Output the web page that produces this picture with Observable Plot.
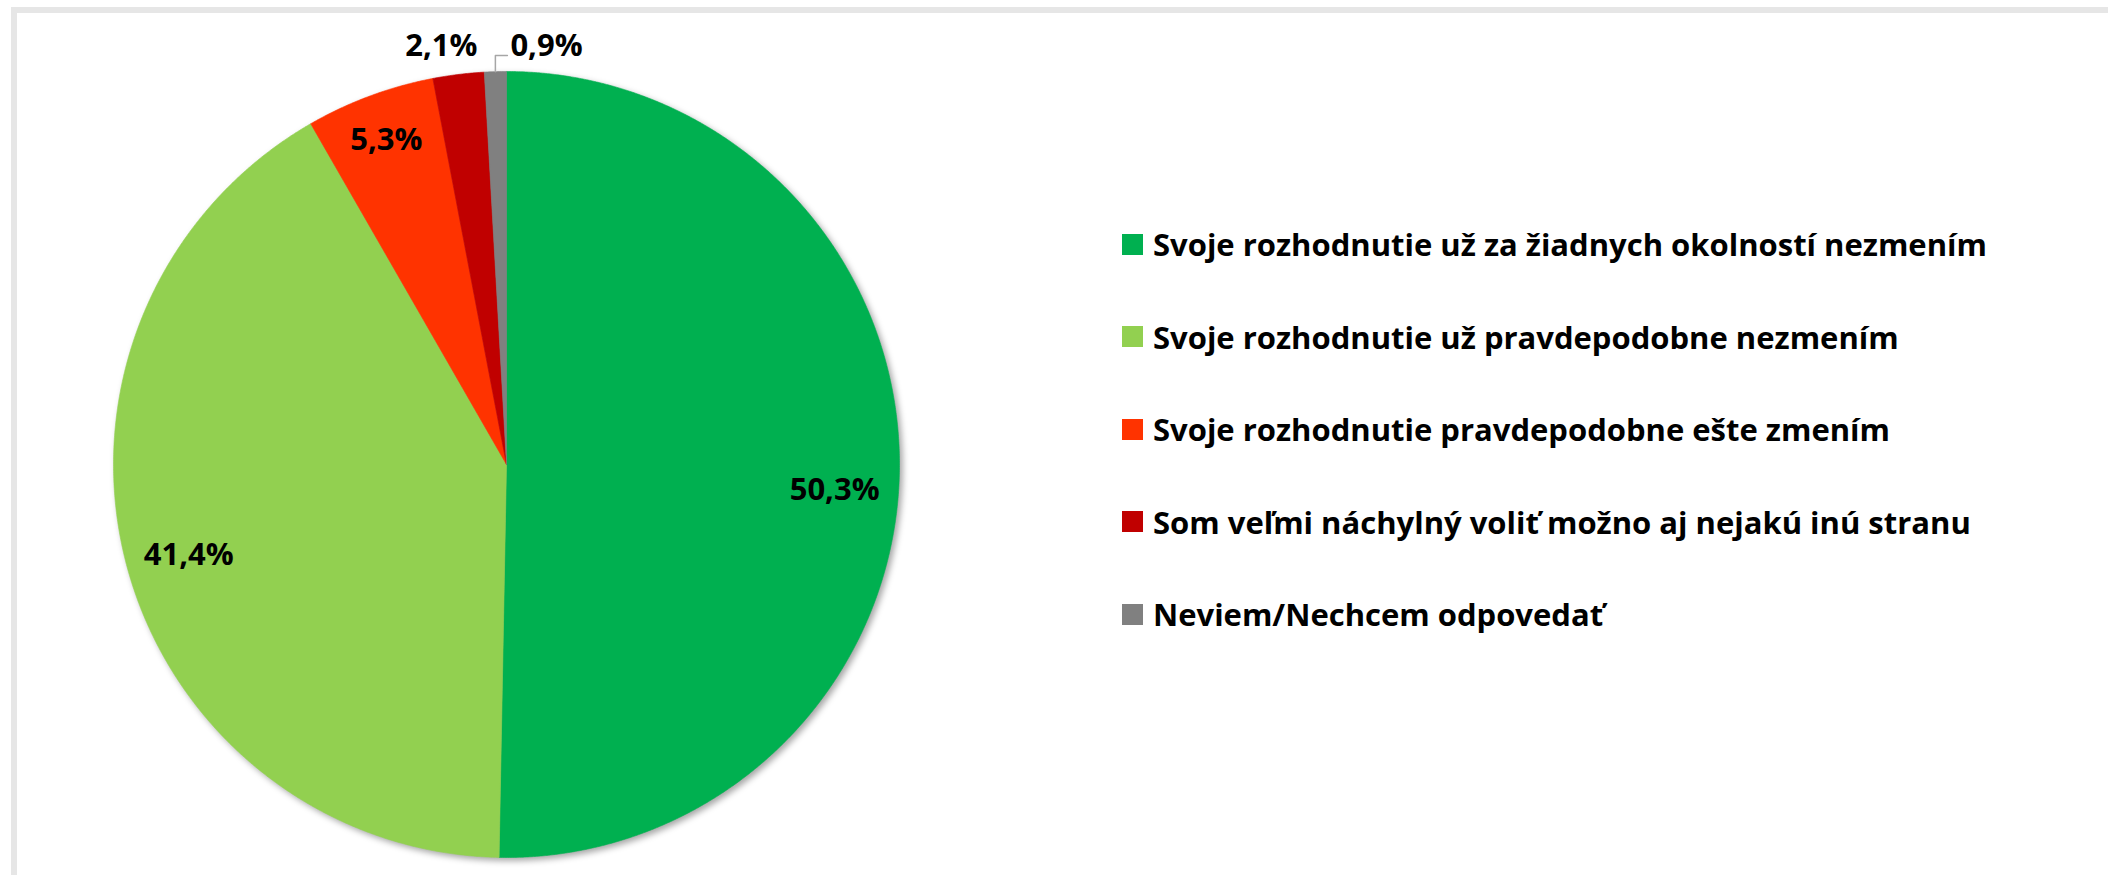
<!DOCTYPE html>
<html>
<head>
<meta charset="utf-8">
<script src="https://cdn.jsdelivr.net/npm/d3@7"></script>
<script src="https://cdn.jsdelivr.net/npm/@observablehq/plot@0.6"></script>
<style>
  html, body { margin: 0; padding: 0; background: #fff; }
  body { width: 2108px; height: 875px; overflow: hidden; position: relative; font-family: "Open Sans", sans-serif; }
  #frame { position: absolute; left: 11px; top: 7px; width: 2300px; height: 1100px;
           border-left: 6px solid #e6e6e6; border-top: 6px solid #e6e6e6; box-sizing: border-box; }
  #chart { position: absolute; left: 0; top: 0; }
  #legend { position: absolute; left: 1122px; top: 198px; }
  .row { height: 92.5px; display: flex; align-items: center; }
  .sw { width: 21px; height: 21px; margin-right: 10px; flex: none; }
  .lab { font-family: "Open Sans", sans-serif; font-weight: 700; font-size: 31px; color: #000; white-space: nowrap; letter-spacing: 0px; }
</style>
</head>
<body>
<div id="frame"></div>
<div id="chart"></div>
<div id="legend"></div>
<script>
// ---- data ----
const categories = [
  "Svoje rozhodnutie už za žiadnych okolností nezmením",
  "Svoje rozhodnutie už pravdepodobne nezmením",
  "Svoje rozhodnutie pravdepodobne ešte zmením",
  "Som veľmi náchylný voliť možno aj nejakú inú stranu",
  "Neviem/Nechcem odpovedať"
];
const values = [50.3, 41.4, 5.3, 2.1, 0.9];
const labels = ["50,3%", "41,4%", "5,3%", "2,1%", "0,9%"];
const colors = ["#00B050", "#92D050", "#FF3300", "#C00000", "#808080"];

// ---- geometry (pixel layout of the plot) ----
const W = 1100, H = 875, CX = 506, CY = 464, R = 393;
const px = 1 / R; // one pixel in data units

const arcs = d3.pie().sort(null).value(d => d)(values);
const total = d3.sum(values);

// slice polygons in data units (unit circle, y up)
const slicePts = [];
arcs.forEach((a, i) => {
  slicePts.push({key: categories[i], x: 0, y: 0});
  const n = Math.max(2, Math.ceil((a.endAngle - a.startAngle) / (Math.PI / 720)));
  for (let k = 0; k <= n; k++) {
    const t = a.startAngle + (a.endAngle - a.startAngle) * k / n;
    slicePts.push({key: categories[i], x: Math.sin(t), y: Math.cos(t)});
  }
  slicePts.push({key: categories[i], x: 0, y: 0});
});

// label placement
const labelPts = [];
const leader = [];
arcs.forEach((a, i) => {
  const mid = (a.startAngle + a.endAngle) / 2;
  const share = values[i] / total;
  if (share >= 0.04) {
    const r = share > 0.1 ? 0.835 : 0.88;
    let y = r * Math.cos(mid);
    if (i === 0) y -= 22 * px;
    if (i === 1) y -= 9 * px;
    labelPts.push({x: r * Math.sin(mid), y, text: labels[i], anchor: "middle"});
  } else if (i < arcs.length - 1) {
    labelPts.push({x: 1.065 * Math.sin(mid) - 14 * px, y: 1.065, text: labels[i], anchor: "middle"});
  } else {
    const ax = Math.sin(mid), ay = Math.cos(mid);
    const by = 1.041;
    const cx = ax + 12 * px;
    leader.push({x: ax, y: ay}, {x: ax, y: by}, {x: cx, y: by});
    labelPts.push({x: cx + 3 * px, y: 1.065, text: labels[i], anchor: "start"});
  }
});

const chart = Plot.plot({
  width: W, height: H,
  margin: 0,
  x: {domain: [-CX / R, (W - CX) / R], axis: null},
  y: {domain: [-(H - CY) / R, CY / R], axis: null},
  color: {domain: categories, range: colors},
  marks: [
    Plot.line(slicePts, {x: "x", y: "y", z: "key", fill: "key", stroke: "key", strokeWidth: 0.6, curve: "linear"}),
    Plot.line(leader, {x: "x", y: "y", stroke: "#a6a6a6", strokeWidth: 1.5}),
    Plot.text(labelPts.filter(d => d.anchor === "middle"), {x: "x", y: "y", text: "text", textAnchor: "middle",
      fontSize: 31, fontWeight: 700, fontFamily: "Open Sans", fill: "#000"}),
    Plot.text(labelPts.filter(d => d.anchor === "start"), {x: "x", y: "y", text: "text", textAnchor: "start",
      fontSize: 31, fontWeight: 700, fontFamily: "Open Sans", fill: "#000"})
  ]
});
const g = chart.querySelector('g[aria-label="line"]');
if (g) g.style.filter = "drop-shadow(3px 3px 3px rgba(0,0,0,0.35))";
document.getElementById("chart").appendChild(chart);

// legend
const leg = d3.select("#legend");
categories.forEach((c, i) => {
  const row = leg.append("div").attr("class", "row");
  row.append("div").attr("class", "sw").style("background", colors[i]);
  row.append("div").attr("class", "lab").text(c);
});
</script>
</body>
</html>
